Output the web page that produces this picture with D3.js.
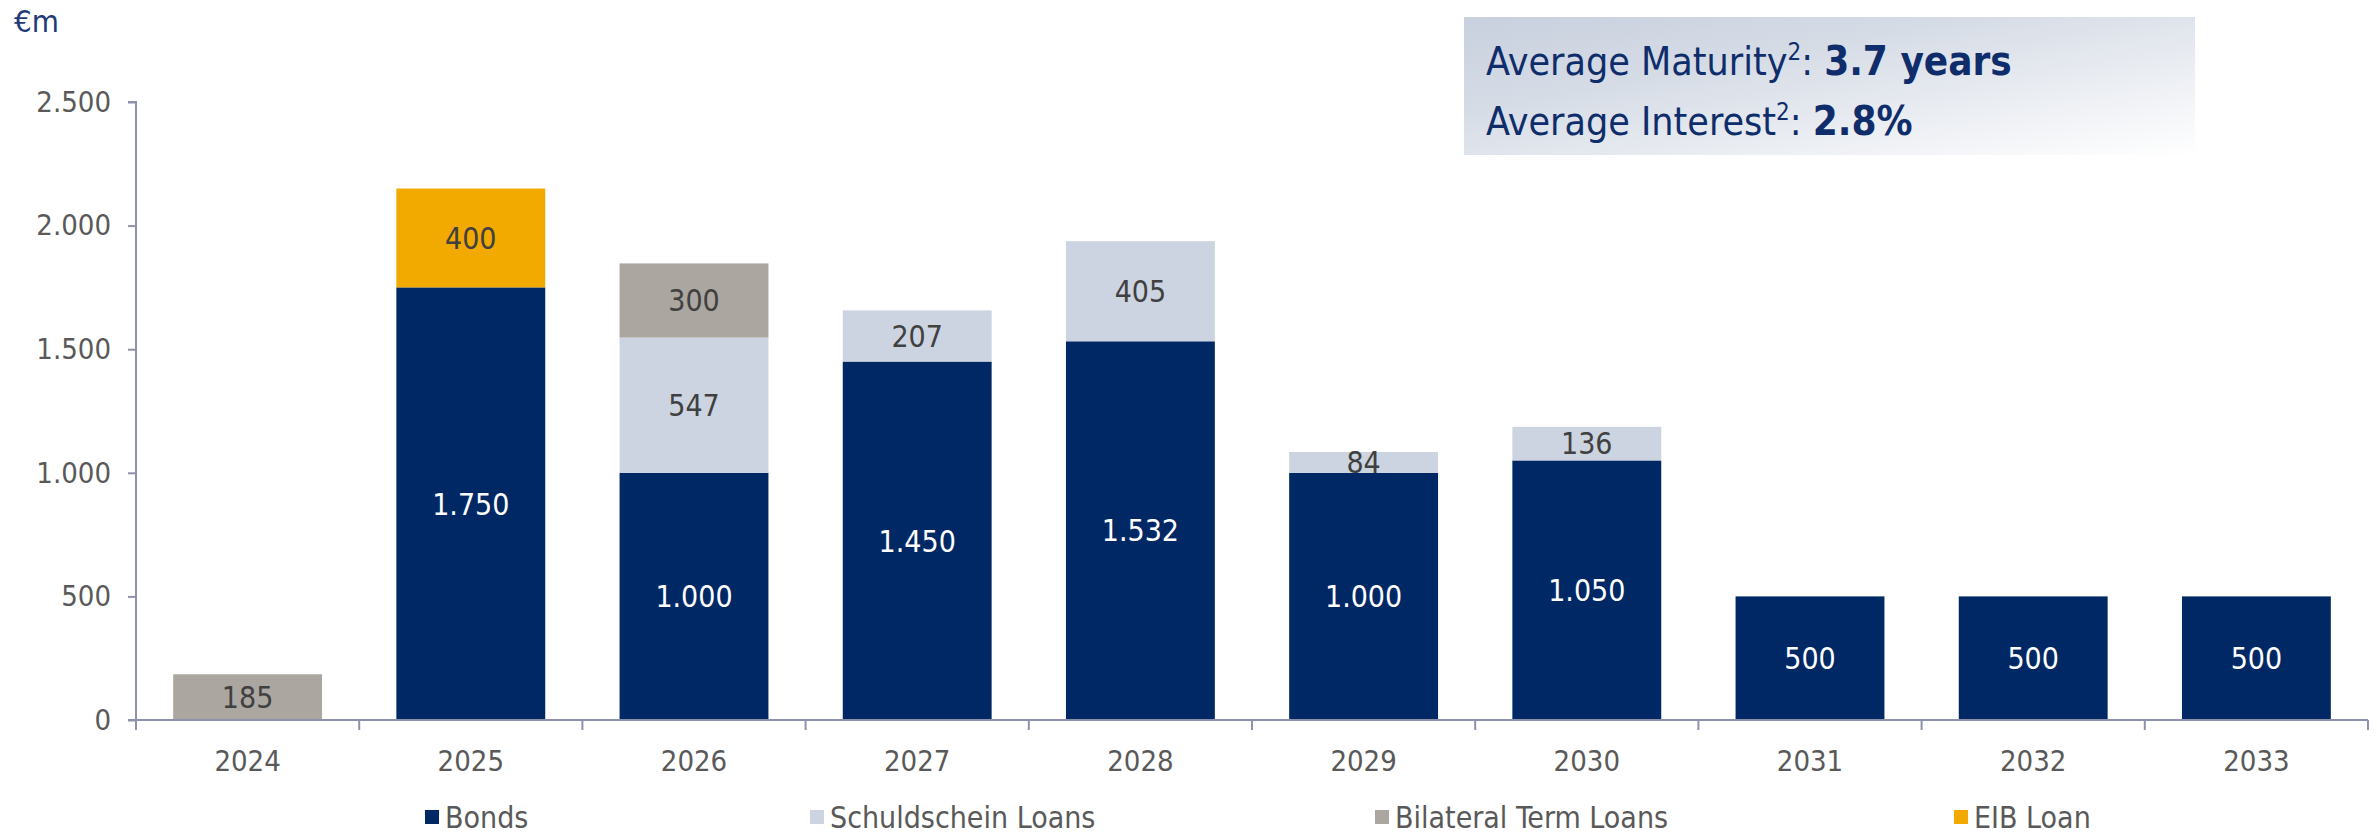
<!DOCTYPE html>
<html>
<head>
<meta charset="utf-8">
<script src="https://cdn.jsdelivr.net/npm/d3@7"></script>
<style>
  html, body { margin: 0; padding: 0; background: #ffffff; }
  svg { display: block; }
  text { font-family: "DejaVu Sans Condensed", "DejaVu Sans", Verdana, sans-serif; font-stretch: condensed; }
</style>
</head>
<body>
<script>
// ---- data ----
const years = ["2024","2025","2026","2027","2028","2029","2030","2031","2032","2033"];
const seriesNames = ["Bonds","Schuldschein Loans","Bilateral Term Loans","EIB Loan"];
const bonds        = [0, 1750, 1000, 1450, 1532, 1000, 1050, 500, 500, 500];
const schuldschein = [0, 0, 547, 207, 405, 84, 136, 0, 0, 0];
const bilateral    = [185, 0, 300, 0, 0, 0, 0, 0, 0, 0];
const eib          = [0, 400, 0, 0, 0, 0, 0, 0, 0, 0];
const yTicks = [0, 500, 1000, 1500, 2000, 2500];
const unitLabel = "€m";
const infoLines = [
  {label: "Average Maturity", sup: "2", value: "3.7 years"},
  {label: "Average Interest", sup: "2", value: "2.8%"}
];

const colors = ["#002864", "#CDD4E1", "#ABA7A0", "#F2A900"];
const labelColors = ["#ffffff", "#404040", "#404040", "#404040"];
const FF = '"DejaVu Sans Condensed", "DejaVu Sans", Verdana, sans-serif';

const W = 2377, H = 839;
const svg = d3.select("body").append("svg").attr("width", W).attr("height", H);

const locale = d3.formatLocale({decimal: ",", thousands: ".", grouping: [3], currency: ["€", ""]});
const fmt = locale.format(",d");

const x = d3.scaleBand().domain(years).range([136, 2368]).paddingInner(0.333).paddingOuter(0.1665);
const y = d3.scaleLinear().domain([0, 2500]).range([720, 102]);

const table = years.map((yr, i) => ({year: yr, "Bonds": bonds[i], "Schuldschein Loans": schuldschein[i], "Bilateral Term Loans": bilateral[i], "EIB Loan": eib[i]}));
const stacked = d3.stack().keys(seriesNames)(table);

const axisColor = "#8E91AB";

// info box
const defs = svg.append("defs");
const grad = defs.append("linearGradient").attr("id", "boxgrad")
  .attr("x1", "0%").attr("y1", "0%").attr("x2", "100%").attr("y2", "100%");
grad.append("stop").attr("offset", "0%").attr("stop-color", "#C8D0DE");
grad.append("stop").attr("offset", "35%").attr("stop-color", "#D6DCE6");
grad.append("stop").attr("offset", "100%").attr("stop-color", "#FFFFFF");
svg.append("rect").attr("x", 1464).attr("y", 17).attr("width", 731).attr("height", 138).attr("fill", "url(#boxgrad)");

infoLines.forEach((ln, i) => {
  const t = svg.append("text").attr("x", 1486).attr("y", 75 + i * 60)
    .attr("fill", "#0F2D6B").attr("font-size", 39);
  t.append("tspan").text(ln.label);
  t.append("tspan").attr("font-size", 24).attr("dy", -15).text(ln.sup);
  t.append("tspan").attr("dy", 15).text(": ");
  t.append("tspan").attr("font-weight", "bold").attr("font-size", 40).text(ln.value);
});

// unit label
svg.append("text").attr("x", 14).attr("y", 32).attr("fill", "#1F3A7A").attr("font-size", 31).text(unitLabel);

// bars
const groups = svg.append("g").selectAll("g").data(stacked).join("g")
  .attr("fill", (d, i) => colors[i]);
groups.selectAll("rect").data(d => d.filter(s => s[1] - s[0] > 0)).join("rect")
  .attr("x", d => x(d.data.year))
  .attr("width", x.bandwidth())
  .attr("y", d => y(d[1]))
  .attr("height", d => y(d[0]) - y(d[1]));

// labels
stacked.forEach((ser, si) => {
  svg.append("g").selectAll("text").data(ser.filter(s => s[1] - s[0] > 0)).join("text")
    .attr("x", d => x(d.data.year) + x.bandwidth() / 2)
    .attr("y", d => (y(d[0]) + y(d[1])) / 2)
    .attr("dy", "0.36em")
    .attr("text-anchor", "middle")
    .attr("font-size", 30)
    .attr("fill", labelColors[si])
    .text(d => fmt(d[1] - d[0]));
});

// y axis
const yAxis = svg.append("g").attr("transform", "translate(136,0)")
  .call(d3.axisLeft(y).tickValues(yTicks).tickSize(8).tickPadding(17).tickFormat(fmt));
yAxis.select(".domain").attr("stroke", axisColor).attr("stroke-width", 2).attr("d", `M-8,${y(2500)}H0V${y(0)}`);
yAxis.selectAll(".tick line").attr("stroke", axisColor).attr("stroke-width", 2);
yAxis.selectAll(".tick text").attr("fill", "#595959").attr("font-size", 29)
  .style("font-family", FF);

// x axis
const xAxis = svg.append("g").attr("transform", `translate(0,${y(0)})`)
  .call(d3.axisBottom(x).tickSize(0).tickPadding(30));
xAxis.select(".domain").attr("stroke", axisColor).attr("stroke-width", 2).attr("d", "M128,0H2368");
xAxis.selectAll(".tick text").attr("fill", "#595959").attr("font-size", 29)
  .style("font-family", FF);
const bounds = years.map(yr => x(yr) - x.step() * x.paddingInner() / 2).concat([2368]);
svg.append("g").selectAll("line").data(bounds).join("line")
  .attr("x1", d => d).attr("x2", d => d)
  .attr("y1", y(0)).attr("y2", y(0) + 10)
  .attr("stroke", axisColor).attr("stroke-width", 2);

// legend
const legendX = [425, 810, 1375, 1954];
const lg = svg.append("g").selectAll("g").data(seriesNames).join("g")
  .attr("transform", (d, i) => `translate(${legendX[i]},817)`);
lg.append("rect").attr("x", 0).attr("y", -7).attr("width", 14).attr("height", 14).attr("fill", (d, i) => colors[i]);
lg.append("text").attr("x", 20).attr("dy", "0.36em").attr("font-size", 30).attr("fill", "#595959").text(d => d);
</script>
</body>
</html>
